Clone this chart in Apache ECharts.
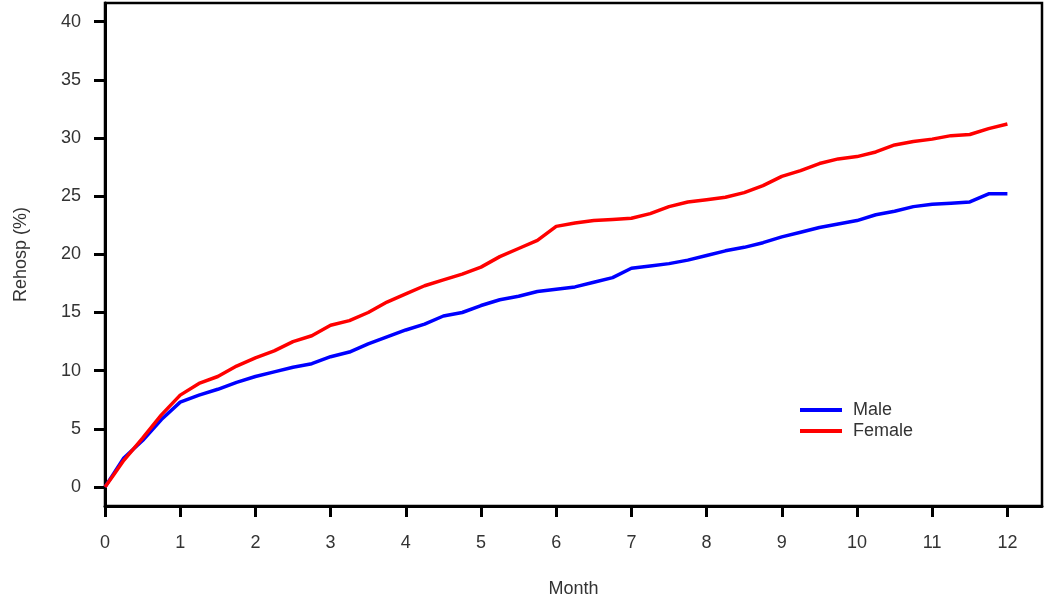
<!DOCTYPE html>
<html>
<head>
<meta charset="utf-8">
<script src="https://cdn.jsdelivr.net/npm/echarts@6/dist/echarts.min.js"></script>
<style>html,body{margin:0;padding:0;background:#fff}#c{width:1050px;height:605px}</style>
</head>
<body>
<div id="c"></div>
<script>
const months = [0,0.1,0.25,0.5,0.75,1,1.25,1.5,1.75,2,2.25,2.5,2.75,3,3.25,3.5,3.75,4,4.25,4.5,4.75,5,5.25,5.5,5.75,6,6.25,6.5,6.75,7,7.25,7.5,7.75,8,8.25,8.5,8.75,9,9.25,9.5,9.75,10,10.25,10.5,10.75,11,11.25,11.5,11.75,12];
const male = [0,1.0,2.5,4.0,5.8,7.3,7.9,8.4,9.0,9.5,9.9,10.3,10.6,11.2,11.6,12.3,12.9,13.5,14.0,14.7,15.0,15.6,16.1,16.4,16.8,17.0,17.2,17.6,18.0,18.8,19.0,19.2,19.5,19.9,20.3,20.6,21.0,21.5,21.9,22.3,22.6,22.9,23.4,23.7,24.1,24.3,24.4,24.5,25.2,25.2];
const female = [0,0.9,2.3,4.2,6.2,7.9,8.9,9.5,10.4,11.1,11.7,12.5,13.0,13.9,14.3,15.0,15.9,16.6,17.3,17.8,18.3,18.9,19.8,20.5,21.2,22.4,22.7,22.9,23.0,23.1,23.5,24.1,24.5,24.7,24.9,25.3,25.9,26.7,27.2,27.8,28.2,28.4,28.8,29.4,29.7,29.9,30.2,30.3,30.8,31.2];
const seriesNames = ['Male','Female'];
const xTicks = [0,1,2,3,4,5,6,7,8,9,10,11,12];
const yTicks = [0,5,10,15,20,25,30,35,40];

const font = 'Liberation Sans, Arial, sans-serif';
const chart = echarts.init(document.getElementById('c'));
chart.setOption({
  backgroundColor:'#fff',
  animation:false,
  grid:{left:105,top:3,right:8,bottom:99,show:true,borderColor:'#000',borderWidth:2.5,containLabel:false},
  legend:{
    left:795,top:396,orient:'vertical',itemWidth:42,itemHeight:4,itemGap:3,
    icon:'rect',
    textStyle:{fontFamily:font,fontSize:18,color:'#333',padding:[0,0,0,6]},
    data:seriesNames
  },
  xAxis:{
    type:'value',min:0,max:12.46,
    name:'Month',nameLocation:'middle',nameGap:74,
    nameTextStyle:{fontFamily:font,fontSize:18,color:'#333'},
    splitLine:{show:false},
    axisLine:{show:true,onZero:false,lineStyle:{color:'#000',width:3}},
    axisTick:{show:true,length:11,lineStyle:{color:'#000',width:3},customValues:xTicks},
    axisLabel:{fontFamily:font,fontSize:18,color:'#333',margin:28,customValues:xTicks}
  },
  yAxis:{
    type:'value',min:-1.63,max:41.6,
    name:'Rehosp (%)',nameLocation:'middle',nameGap:75,nameRotate:90,
    nameTextStyle:{fontFamily:font,fontSize:18,color:'#333'},
    splitLine:{show:false},
    axisLine:{show:true,onZero:false,lineStyle:{color:'#000',width:3}},
    axisTick:{show:true,length:11,lineStyle:{color:'#000',width:3},customValues:yTicks},
    axisLabel:{fontFamily:font,fontSize:18,color:'#333',margin:24,customValues:yTicks}
  },
  series:[
    {name:seriesNames[0],type:'line',data:months.map((m,i)=>[m,male[i]]),showSymbol:false,
     lineStyle:{color:'#0000ff',width:3.5},itemStyle:{color:'#0000ff'}},
    {name:seriesNames[1],type:'line',data:months.map((m,i)=>[m,female[i]]),showSymbol:false,
     lineStyle:{color:'#ff0000',width:3.5},itemStyle:{color:'#ff0000'}}
  ]
});
</script>
</body>
</html>
